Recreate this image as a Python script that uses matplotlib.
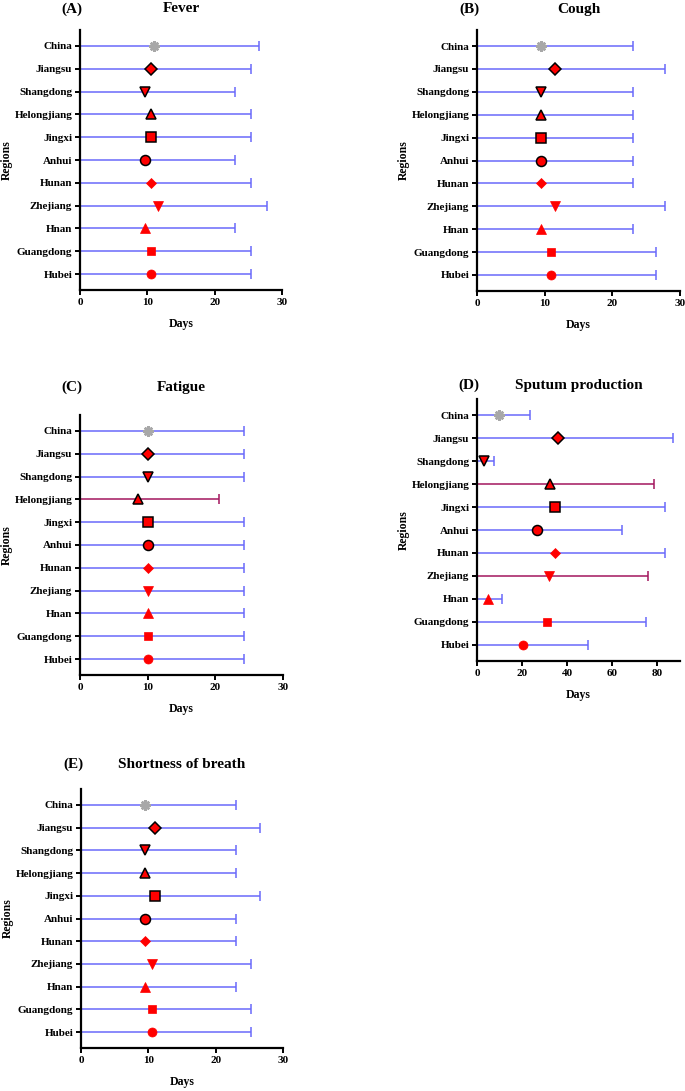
import numpy as np
import matplotlib
matplotlib.use("Agg")
import matplotlib.pyplot as plt

plt.rcParams['font.family'] = ['Liberation Serif', 'DejaVu Serif']
plt.rcParams['font.weight'] = 'bold'

regions = ["China", "Jiangsu", "Shangdong", "Helongjiang", "Jingxi", "Anhui",
           "Hunan", "Zhejiang", "Hnan", "Guangdong", "Hubei"]

# point estimate and upper limit (days), rows top to bottom
fever_est = [11.0, 10.6, 9.6, 10.6, 10.6, 9.6, 10.6, 11.6, 9.6, 10.6, 10.6]
fever_up = [26.6, 25.4, 23.0, 25.4, 25.4, 23.0, 25.4, 27.8, 23.0, 25.4, 25.4]

cough_est = [9.5, 11.6, 9.5, 9.5, 9.5, 9.5, 9.5, 11.6, 9.5, 11.0, 11.0]
cough_up = [23.0, 27.8, 23.0, 23.0, 23.0, 23.0, 23.0, 27.8, 23.0, 26.5, 26.5]

fatigue_est = [10.0, 10.0, 10.0, 8.5, 10.0, 10.0, 10.0, 10.0, 10.0, 10.0, 10.0]
fatigue_up = [24.2, 24.2, 24.2, 20.5, 24.2, 24.2, 24.2, 24.2, 24.2, 24.2, 24.2]

sputum_est = [9.6, 36.1, 3.2, 32.4, 34.7, 26.5, 34.7, 31.7, 4.9, 31.0, 20.4]
sputum_up = [23.3, 87.0, 7.4, 78.5, 83.3, 64.2, 83.3, 76.0, 11.1, 74.8, 49.4]

breath_est = [9.5, 11.0, 9.5, 9.5, 11.0, 9.5, 9.5, 10.5, 9.5, 10.5, 10.5]
breath_up = [23.0, 26.6, 23.0, 23.0, 26.6, 23.0, 23.0, 25.3, 23.0, 25.3, 25.3]

# rows drawn in the darker line colour
fatigue_dark = ["Helongjiang"]
sputum_dark = ["Helongjiang", "Zhejiang"]

blue = "#6A6AFA"
dark = "#A3165E"

# marker, size, edge colour, edge width per region
mk = {
    "China": ((8, 2, 0), 7.5, "#A8A8A8", 1.8),
    "Jiangsu": ("D", 6, "black", 1.1),
    "Shangdong": ("v", 7.5, "black", 1.1),
    "Helongjiang": ("^", 7.5, "black", 1.1),
    "Jingxi": ("s", 7.2, "black", 1.1),
    "Anhui": ("o", 7.2, "black", 1.1),
    "Hunan": ("D", 4.6, "red", 0.5),
    "Zhejiang": ("v", 6.5, "red", 0.5),
    "Hnan": ("^", 6.5, "red", 0.5),
    "Guangdong": ("s", 6.3, "red", 0.5),
    "Hubei": ("o", 6.5, "red", 0.5),
}

W, H = 685, 1091
fig = plt.figure(figsize=(W / 100, H / 100), dpi=100)


def panel(x0, x1, top, bot, est, up, xmax, xticks, tag, title, title_y, dark_rows=()):
    ax = fig.add_axes([x0 / W, 1 - bot / H, (x1 - x0) / W, (bot - top) / H])
    ypos = np.arange(len(regions))[::-1]
    for name, y, e, u in zip(regions, ypos, est, up):
        c = dark if name in dark_rows else blue
        ax.errorbar([e], [y], xerr=[[e], [u - e]], fmt="none", ecolor=c,
                    elinewidth=1.1, capsize=3.5, capthick=1.1, zorder=2)
        m, ms, mec, mew = mk[name]
        face = "#A8A8A8" if name == "China" else "red"
        ax.plot([e], [y], marker=m, ms=ms, mfc=face, mec=mec, mew=mew,
                linestyle="none", zorder=3)
    ax.set_xlim(0, xmax)
    ax.set_ylim(-0.7, len(regions) - 0.3)
    ax.set_xticks(xticks)
    ax.set_yticks(ypos)
    ax.set_yticklabels(regions)
    for s in ["top", "right"]:
        ax.spines[s].set_visible(False)
    for s in ["left", "bottom"]:
        ax.spines[s].set_linewidth(1.6)
    ax.tick_params(axis="both", width=1.4, length=3.5, labelsize=8, pad=2)
    for lab in ax.get_xticklabels() + ax.get_yticklabels():
        lab.set_fontweight("bold")
    ax.set_xlabel("Days", fontsize=8.5, fontweight="bold", labelpad=8)
    ax.set_ylabel("Regions", fontsize=8.5, fontweight="bold", va="center")
    ax.yaxis.set_label_coords(-73 / (x1 - x0), 0.5)
    fig.text((x0 - 8) / W, 1 - title_y / H, tag, ha="center", va="center",
             fontsize=11, fontweight="bold")
    fig.text((x0 + x1) / 2 / W, 1 - title_y / H, title, ha="center", va="center",
             fontsize=11, fontweight="bold")
    return ax


panel(80, 282, 30, 290, fever_est, fever_up, 30, [0, 10, 20, 30], "(A)", "Fever", 9)
panel(477, 680, 30, 291, cough_est, cough_up, 30, [0, 10, 20, 30], "(B)", "Cough", 9)
panel(80, 283, 415, 675, fatigue_est, fatigue_up, 30, [0, 10, 20, 30], "(C)", "Fatigue", 387,
      fatigue_dark)
panel(477, 680, 399, 661, sputum_est, sputum_up, 90, [0, 20, 40, 60, 80], "(D)",
      "Sputum production", 385, sputum_dark)
panel(81, 283, 789, 1048, breath_est, breath_up, 30, [0, 10, 20, 30], "(E)",
      "Shortness of breath", 764)

fig.savefig("out.png", dpi=100)
